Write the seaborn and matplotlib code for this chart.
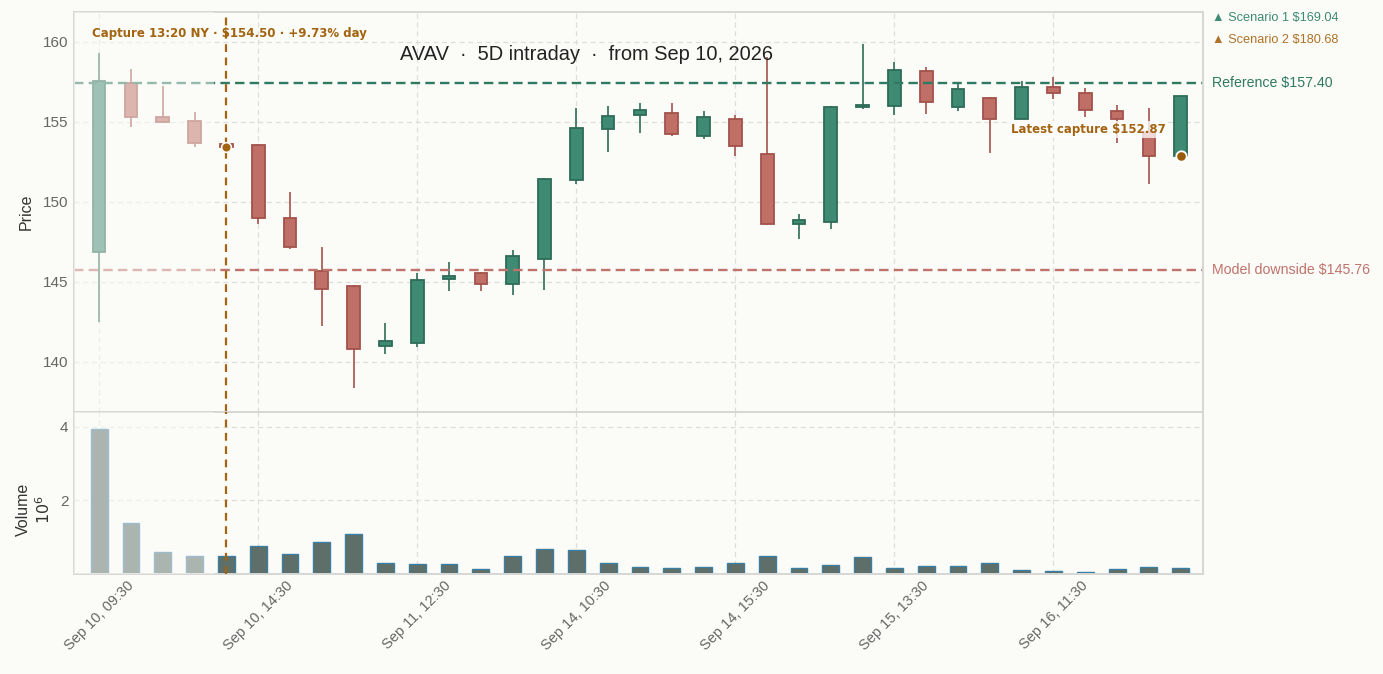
import matplotlib
matplotlib.use("Agg")
import matplotlib.pyplot as plt
import matplotlib.transforms as mtransforms
import numpy as np
import pandas as pd
import seaborn as sns

# hourly bars, 5 sessions
days = ["Sep 10", "Sep 11", "Sep 14", "Sep 15", "Sep 16"]
hours = ["09:30", "10:30", "11:30", "12:30", "13:30", "14:30", "15:30"]
bar_labels = [f"{d}, {h}" for d in days for h in hours]

opens = [146.88, 157.44, 155.31, 155.06, 153.62, 153.54, 149.00, 145.69, 144.75, 141.00,
         141.19, 145.17, 145.52, 144.86, 146.42, 151.34, 154.54, 155.40, 155.56, 154.11,
         155.19, 152.98, 148.63, 148.73, 155.90, 155.96, 158.17, 155.92, 156.50, 155.19,
         157.19, 156.81, 155.70, 154.38, 152.87]
highs = [159.31, 158.27, 157.23, 155.61, 153.80, 153.60, 150.59, 147.15, 144.80, 142.40,
         145.56, 146.25, 145.63, 146.98, 151.46, 155.84, 155.98, 156.15, 156.15, 155.65,
         155.40, 159.06, 149.21, 155.98, 159.84, 158.75, 158.40, 157.46, 156.55, 157.52,
         157.77, 157.09, 156.04, 155.84, 156.61]
lows = [142.50, 154.69, 154.90, 153.40, 153.40, 148.59, 147.06, 142.25, 138.34, 140.46,
        140.90, 144.44, 144.44, 144.17, 144.48, 151.09, 153.13, 154.31, 154.11, 153.90,
        152.88, 148.52, 147.69, 148.27, 155.77, 155.40, 155.46, 155.65, 153.06, 155.15,
        156.40, 155.27, 153.69, 151.10, 152.75]
closes = [157.56, 155.27, 154.96, 153.65, 153.45, 149.00, 147.17, 144.54, 140.79, 141.29,
          145.11, 145.38, 144.86, 146.63, 151.40, 154.59, 155.38, 155.75, 154.21, 155.31,
          153.48, 148.61, 148.86, 155.92, 155.98, 158.23, 156.23, 157.04, 155.19, 157.19,
          156.79, 155.73, 155.15, 152.86, 156.61]
volume_m = [3.95, 1.39, 0.61, 0.50, 0.50, 0.77, 0.55, 0.88, 1.10, 0.31,
            0.28, 0.28, 0.14, 0.50, 0.69, 0.64, 0.31, 0.20, 0.17, 0.20,
            0.31, 0.50, 0.17, 0.25, 0.47, 0.17, 0.23, 0.23, 0.31, 0.12,
            0.09, 0.06, 0.14, 0.20, 0.17]

capture_idx = 4
capture_price = 153.45
latest_price = 152.87
reference = 157.40
downside = 145.76
scenario_1 = 169.04
scenario_2 = 180.68

df = pd.DataFrame({"label": bar_labels, "open": opens, "high": highs,
                   "low": lows, "close": closes, "volume": volume_m})
df["pos"] = np.arange(len(df))
df["up"] = df["close"] >= df["open"]

BG = "#fbfbf8"
UP_FILL, UP_EDGE = "#3f8a73", "#2d6b58"
DN_FILL, DN_EDGE = "#c06f66", "#a2524b"
CAPTURE = "#a3630f"
REF_C = "#2f7a62"
DOWN_C = "#c0736b"

sns.set_theme(style="whitegrid")
plt.rcParams["font.family"] = ["Liberation Sans", "DejaVu Sans"]
plt.rcParams["axes.facecolor"] = BG
plt.rcParams["figure.facecolor"] = BG

fig = plt.figure(figsize=(13.83, 6.74), dpi=100)
W, H = 1383, 674
ax = fig.add_axes([74 / W, (H - 412) / H, 1129 / W, 400 / H])
axv = fig.add_axes([74 / W, (H - 574) / H, 1129 / W, 162 / H], sharex=ax)

# volume
sns.barplot(data=df, x="pos", y="volume", ax=axv, color="#5e6e68", saturation=1,
            width=0.53, edgecolor="#3b7ea1", linewidth=1, zorder=2)

# candles
for _, r in df.iterrows():
    fill, edge = (UP_FILL, UP_EDGE) if r["up"] else (DN_FILL, DN_EDGE)
    ax.vlines(r["pos"], r["low"], r["high"], color=edge, lw=1.2, zorder=2)
    lo, hi = min(r["open"], r["close"]), max(r["open"], r["close"])
    ax.bar(r["pos"], max(hi - lo, 0.12), bottom=lo, width=0.4, color=fill,
           edgecolor=edge, linewidth=1.3, zorder=2.1)

ax.axhline(reference, color=REF_C, lw=1.7, ls=(0, (4, 2.2)), zorder=2.2)
ax.axhline(downside, color=DOWN_C, lw=1.7, ls=(0, (4, 2.2)), zorder=2.2)

# faded pre-capture region
for a in (ax, axv):
    a.axvspan(-0.8, 3.62, color=BG, alpha=0.5, lw=0, zorder=2.6)
    a.axvline(capture_idx, color=CAPTURE, lw=1.6, ls=(0, (3.5, 2.5)), zorder=4,
              clip_on=False)

ax.plot(capture_idx, capture_price, "o", ms=7, color=CAPTURE, mec=BG, mew=1.2, zorder=5)
ax.plot(len(df) - 1, latest_price, "o", ms=7.5, color="#9a5a08", mec="white", mew=1.3, zorder=5)

ax.set_xlim(-0.79, 34.7)
ax.set_ylim(136.86, 161.86)
axv.set_ylim(0, 4.4)
ax.set_yticks([140, 145, 150, 155, 160])
axv.set_yticks([2, 4])
ticks = df["pos"][::5]
axv.set_xticks(ticks)
axv.set_xticklabels(df["label"][::5], rotation=45, ha="center", fontsize=10.5, color="#666666")
ax.tick_params(axis="x", labelbottom=False, length=0)
for a in (ax, axv):
    a.grid(True, axis="both", color="#dddddd", ls=(0, (4, 3)), lw=0.9)
    a.set_axisbelow(True)
    a.tick_params(axis="y", labelsize=11, labelcolor="#666666", length=0, pad=4)
    a.tick_params(axis="x", length=0)
    for s in a.spines.values():
        s.set_color("#d6d6d6")
        s.set_linewidth(1.4)
axv.set_xlabel("")
ax.set_ylabel("Price", fontsize=11.5, color="#333333")
ax.yaxis.set_label_coords(-0.036, 0.5)
axv.set_ylabel("Volume\n$10^6$", fontsize=11.5, color="#333333")
axv.yaxis.set_label_coords(-0.019, 0.4)

# annotations
ax.text(0.016, 0.945, "Capture 13:20 NY · $154.50 · +9.73% day", transform=ax.transAxes,
        fontsize=8.5, fontweight="bold", family="DejaVu Sans", color=CAPTURE,
        va="center", ha="left", zorder=6)
fig.text(586 / W, 1 - 54 / H, "AVAV  ·  5D intraday  ·  from Sep 10, 2026",
         fontsize=14.4, color="#222222", ha="center", va="center", zorder=6)
ax.annotate(f"Latest capture ${latest_price:.2f}", (len(df) - 1, latest_price),
            xytext=(-11, 19), textcoords="offset points", ha="right", va="center",
            fontsize=8.5, fontweight="bold", family="DejaVu Sans", color=CAPTURE, zorder=6,
            bbox=dict(boxstyle="square,pad=0.15", fc="white", ec="none", alpha=0.75))

tr = mtransforms.blended_transform_factory(ax.transAxes, ax.transData)
ax.text(1.008, reference, f"Reference ${reference:.2f}", transform=tr, color=REF_C,
        fontsize=10.2, va="center", ha="left")
ax.text(1.008, downside, f"Model downside ${downside:.2f}", transform=tr, color=DOWN_C,
        fontsize=10.2, va="center", ha="left")
ax.text(1.008, 0.985, f"▲ Scenario 1 ${scenario_1:.2f}", transform=ax.transAxes,
        color="#3d8a75", fontsize=9.2, va="center", ha="left")
ax.text(1.008, 0.93, f"▲ Scenario 2 ${scenario_2:.2f}", transform=ax.transAxes,
        color="#b07227", fontsize=9.2, va="center", ha="left")

fig.savefig("out.png", dpi=100, facecolor=BG)
